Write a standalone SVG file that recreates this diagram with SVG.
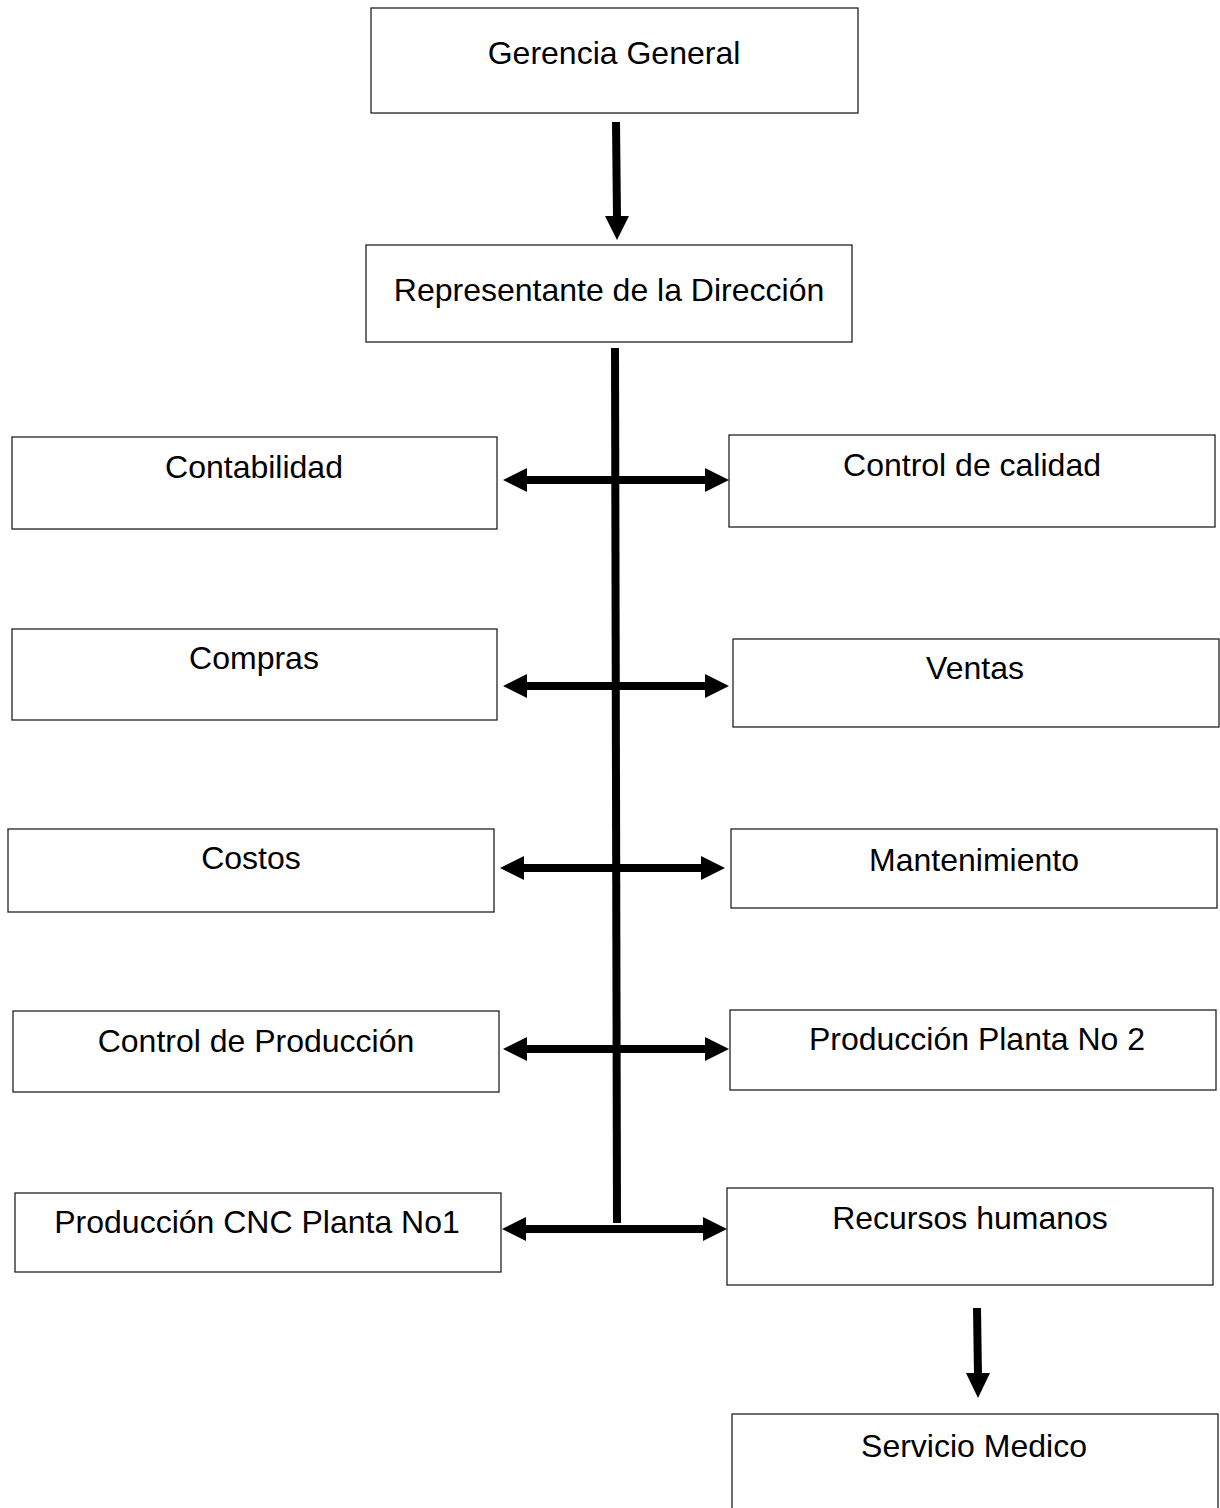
<svg xmlns="http://www.w3.org/2000/svg" width="1220" height="1508" viewBox="0 0 1220 1508">
<style>
.box{fill:#fff;stroke:#222;stroke-width:1.3}
.t{font-family:"Liberation Sans",Arial,sans-serif;font-size:32px;fill:#000;text-anchor:middle}
.c{stroke:#000;stroke-width:8;fill:none}
.h{fill:#000}
</style>
<rect width="1220" height="1508" fill="#fff"/>
<g id="connectors">
<line class="c" x1="616" y1="122" x2="617" y2="218"/>
<polygon class="h" points="605,216 629,216 617,240"/>
<line class="c" x1="615" y1="348" x2="617" y2="1223"/>
<line class="c" x1="525" y1="480" x2="707" y2="480"/>
<polygon class="h" points="503,480 527,468 527,492"/>
<polygon class="h" points="729,480 705,468 705,492"/>
<line class="c" x1="525" y1="686" x2="707" y2="686"/>
<polygon class="h" points="503,686 527,674 527,698"/>
<polygon class="h" points="729,686 705,674 705,698"/>
<line class="c" x1="522" y1="868" x2="703" y2="868"/>
<polygon class="h" points="500,868 524,856 524,880"/>
<polygon class="h" points="725,868 701,856 701,880"/>
<line class="c" x1="525" y1="1049" x2="707" y2="1049"/>
<polygon class="h" points="503,1049 527,1037 527,1061"/>
<polygon class="h" points="729,1049 705,1037 705,1061"/>
<line class="c" x1="524" y1="1229" x2="705" y2="1229"/>
<polygon class="h" points="502,1229 526,1217 526,1241"/>
<polygon class="h" points="727,1229 703,1217 703,1241"/>
<line class="c" x1="977" y1="1308" x2="978" y2="1376"/>
<polygon class="h" points="966,1373 990,1373 978,1398"/>
</g>
<g id="gerencia"><rect class="box" x="371" y="8" width="487" height="105"/><text class="t" x="614" y="64">Gerencia General</text></g>
<g id="representante"><rect class="box" x="366" y="245" width="486" height="97"/><text class="t" x="609" y="301">Representante de la Dirección</text></g>
<g id="contabilidad"><rect class="box" x="12" y="437" width="485" height="92"/><text class="t" x="254" y="478">Contabilidad</text></g>
<g id="calidad"><rect class="box" x="729" y="435" width="486" height="92"/><text class="t" x="972" y="476">Control de calidad</text></g>
<g id="compras"><rect class="box" x="12" y="629" width="485" height="91"/><text class="t" x="254" y="669">Compras</text></g>
<g id="ventas"><rect class="box" x="733" y="639" width="486" height="88"/><text class="t" x="975" y="679">Ventas</text></g>
<g id="costos"><rect class="box" x="8" y="829" width="486" height="83"/><text class="t" x="251" y="869">Costos</text></g>
<g id="mantenimiento"><rect class="box" x="731" y="829" width="486" height="79"/><text class="t" x="974" y="871">Mantenimiento</text></g>
<g id="controlproduccion"><rect class="box" x="13" y="1011" width="486" height="81"/><text class="t" x="256" y="1052">Control de Producción</text></g>
<g id="planta2"><rect class="box" x="730" y="1010" width="486" height="80"/><text class="t" x="977" y="1050">Producción Planta No 2</text></g>
<g id="cnc"><rect class="box" x="15" y="1193" width="486" height="79"/><text class="t" x="257" y="1233">Producción CNC Planta No1</text></g>
<g id="rrhh"><rect class="box" x="727" y="1188" width="486" height="97"/><text class="t" x="970" y="1229">Recursos humanos</text></g>
<g id="medico"><rect class="box" x="732" y="1414" width="486" height="110"/><text class="t" x="974" y="1457">Servicio Medico</text></g>
</svg>
